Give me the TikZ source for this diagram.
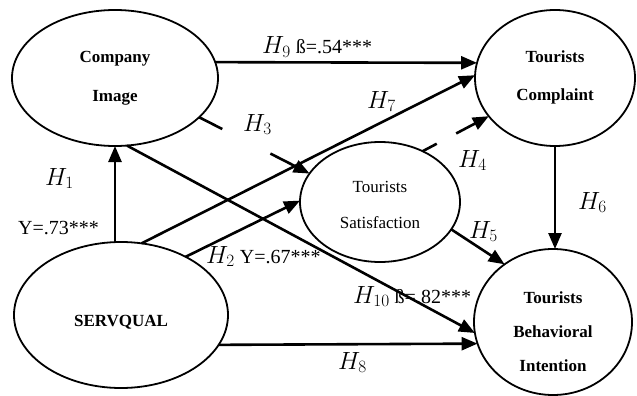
\documentclass[tikz,border=0pt]{standalone}
\usepackage{fontspec}
\setmainfont{Liberation Serif}
\usetikzlibrary{shapes.geometric,arrows.meta}
\newcommand\hy[1]{{\fontsize{24.88}{28}\selectfont$H_{\scriptscriptstyle #1}$}}
\begin{document}
\begin{tikzpicture}[x=1pt,y=-1pt,
  ell/.style={ellipse,draw,line width=1.8pt,inner sep=0pt,outer sep=0pt},
  btext/.style={font=\fontsize{17}{38}\selectfont\bfseries,align=center,inner sep=0pt},
  rtext/.style={font=\fontsize{17}{36}\selectfont,align=center,inner sep=0pt},
  arr/.style={line width=2.6pt,-{Triangle[length=16pt,width=13pt]}},
  hyp/.style={anchor=base west,inner sep=0pt,font=\fontsize{20}{24}\selectfont},
]
\useasboundingbox (0,0) rectangle (637,396);
% ellipses
\node[ell,minimum width=206pt,minimum height=136pt] (ci) at (115,78) {};
\node[ell,minimum width=160pt,minimum height=136pt] (tc) at (555,78) {};
\node[ell,minimum width=160pt,minimum height=120pt] (ts) at (380,202) {};
\node[ell,minimum width=214pt,minimum height=146pt] (sq) at (121,315) {};
\node[ell,minimum width=158pt,minimum height=146pt] (bi) at (553,322) {};
% texts
\node[btext,font=\fontsize{17}{39}\selectfont\bfseries] (cit) at (ci.center) {Company\\Image};
\node[btext] (tct) at ([yshift=1pt]tc.center) {Tourists\\Complaint};
\node[rtext] (tst) at ([yshift=-3pt]ts.center) {Tourists\\Satisfaction};
\node[btext] (sqt) at ([yshift=-7pt]sq.center) {SERVQUAL};
\node[btext,font=\fontsize{17}{34}\selectfont\bfseries] (bit) at ([yshift=-10pt]bi.center) {Tourists\\Behavioral\\Intention};
% connectors
\draw[arr] (ci.9) -- (tc.169);
\draw[arr] (ci.south |- sq.north) -- (ci.south);
\draw[arr] (sq.74) -- (tc.178);
\draw[arr] (ci.-80) -- (bi.188);
\draw[arr,dash pattern=on 26pt off 54pt on 300pt] (ci.-25) -- (ts.158);
\draw[arr] (sq.42) -- (ts.179);
\draw[arr,dash pattern=on 16pt off 22pt on 300pt] (ts.50) -- (tc.210);
\draw[arr] (ts.-21) -- (bi.130);
\draw[arr] (tc.south) -- (tc.south |- bi.north);
\draw[arr] (sq.-17) -- (bi.196);
% labels
\node[hyp] (l9) at (262,54) {\hy{9} ß=.54***};
\node[hyp] (l1) at (45,185) {\hy{1}};
\node[hyp] (l73) at (18,234) {Y=.73***};
\node[hyp] (l3) at (243,131) {\hy{3}};
\node[hyp] (l7) at (367,108) {\hy{7}};
\node[hyp] (l4) at (458,167) {\hy{4}};
\node[hyp] (l2) at (206,263) {\hy{2} Y=.67***};
\node[hyp] (l6) at (578,209) {\hy{6}};
\node[hyp] (l5) at (469,238) {\hy{5}};
\node[hyp] (l10) at (353,303) {\hy{10} ß=.82***};
\node[hyp] (l8) at (338,369) {\hy{8}};
\end{tikzpicture}
\end{document}
